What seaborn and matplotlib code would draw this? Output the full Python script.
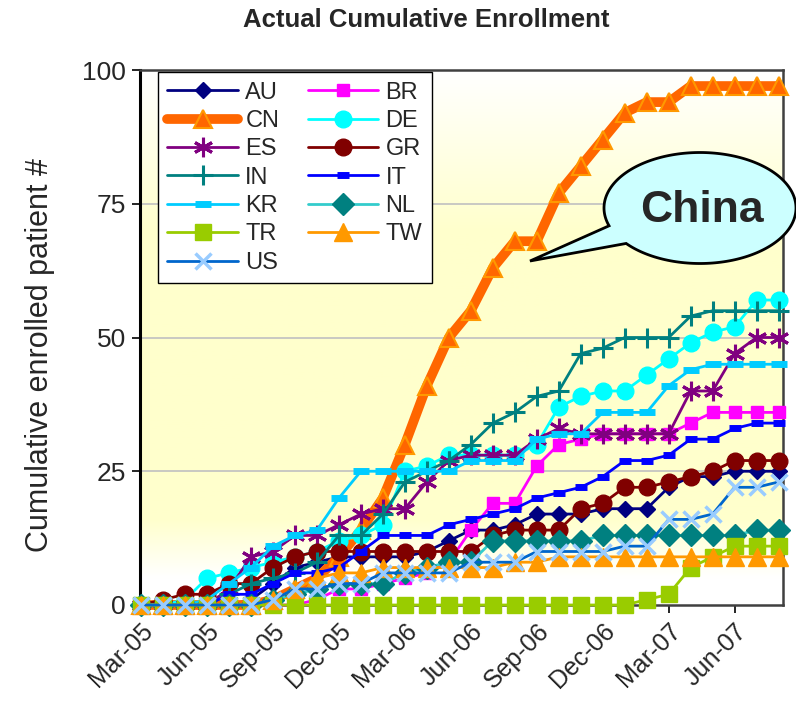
import numpy as np
import pandas as pd
import matplotlib
matplotlib.use("Agg")
import matplotlib.pyplot as plt
import matplotlib.transforms as mtransforms
import seaborn as sns
from matplotlib.patches import Polygon
from matplotlib.colors import LinearSegmentedColormap

sns.set_theme(style="white")
plt.rcParams["font.family"] = ["Liberation Sans", "DejaVu Sans"]

# monthly points, Mar-05 .. Aug-07
months = np.arange(30)
tick_labels = ["Mar-05", "Jun-05", "Sep-05", "Dec-05", "Mar-06",
               "Jun-06", "Sep-06", "Dec-06", "Mar-07", "Jun-07"]

AU = [0, 0, 0, 0, 0, 1, 4, 7, 8, 9, 9, 9, 9, 10, 12, 14, 14, 15, 17, 17,
      17, 18, 18, 18, 22, 24, 24, 25, 25, 25]
BR = [0, 0, 0, 0, 0, 0, 0, 0, 1, 3, 3, 4, 5, 6, 8, 14, 19, 19, 26, 30,
      31, 32, 32, 32, 32, 34, 36, 36, 36, 36]
CN = [0, 0, 0, 0, 0, 0, 1, 3, 5, 9, 14, 20, 30, 41, 50, 55, 63, 68, 68, 77,
      82, 87, 92, 94, 94, 97, 97, 97, 97, 97]
DE = [0, 0, 1, 5, 6, 7, 8, 9, 10, 12, 13, 15, 25, 26, 28, 28, 28, 28, 30, 37,
      39, 40, 40, 43, 46, 49, 51, 52, 57, 57]
ES = [0, 0, 0, 0, 3, 9, 10, 13, 13, 15, 17, 18, 18, 23, 27, 28, 28, 28, 31, 33,
      32, 32, 32, 32, 32, 40, 40, 47, 50, 50]
GR = [0, 1, 2, 2, 4, 4, 7, 9, 10, 10, 10, 10, 10, 10, 10, 10, 13, 14, 14, 14,
      18, 19, 22, 22, 23, 24, 25, 27, 27, 27]
IN = [0, 0, 0, 0, 2, 4, 5, 6, 8, 13, 13, 17, 23, 25, 27, 30, 34, 36, 39, 40,
      47, 48, 50, 50, 50, 54, 55, 55, 55, 55]
IT = [0, 0, 0, 0, 2, 2, 4, 6, 6, 7, 10, 13, 13, 13, 15, 16, 17, 18, 20, 21,
      22, 24, 27, 27, 28, 31, 31, 33, 34, 34]
KR = [0, 0, 0, 1, 4, 7, 11, 13, 14, 20, 25, 25, 25, 25, 25, 27, 27, 27, 31, 32,
      32, 36, 36, 36, 41, 44, 45, 45, 45, 45]
NL = [0, 0, 0, 0, 0, 0, 1, 2, 3, 4, 4, 4, 6, 7, 8, 8, 12, 12, 12, 12,
      12, 13, 13, 13, 13, 13, 13, 13, 14, 14]
TR = [0, 0, 0, 0, 0, 0, 0, 0, 0, 0, 0, 0, 0, 0, 0, 0, 0, 0, 0, 0,
      0, 0, 0, 1, 2, 7, 9, 11, 11, 11]
TW = [0, 0, 0, 0, 0, 0, 1, 3, 5, 6, 6, 7, 7, 7, 7, 7, 7, 8, 8, 9,
      9, 9, 9, 9, 9, 9, 9, 9, 9, 9]
US = [0, 0, 0, 0, 0, 0, 1, 3, 3, 4, 4, 6, 6, 6, 6, 8, 8, 8, 10, 10,
      10, 10, 11, 11, 16, 16, 17, 22, 22, 23]

series = {"AU": AU, "BR": BR, "CN": CN, "DE": DE, "ES": ES, "GR": GR,
          "IN": IN, "IT": IT, "KR": KR, "NL": NL, "TR": TR, "TW": TW, "US": US}

df = pd.concat(
    [pd.DataFrame({"month": months, "patients": v, "country": k})
     for k, v in series.items()],
    ignore_index=True,
)

# line colour, width, marker, marker size, face, edge, edge width
styles = {
    "AU": ("#000080", 2, "D", 8, "#000080", "#000080", 1),
    "BR": ("#FF00FF", 2, "s", 9, "#FF00FF", "#FF00FF", 1),
    "CN": ("#FF6600", 7, "^", 13, "#FF6600", "#FF9900", 1.5),
    "DE": ("#00FFFF", 2, "o", 12, "#00FFFF", "#00FFFF", 1),
    "ES": ("#800080", 2, (6, 2, 0), 14, "#800080", "#800080", 2.2),
    "GR": ("#800000", 2, "o", 12, "#800000", "#800000", 1),
    "IN": ("#008080", 2, "+", 14, "#008080", "#008080", 2.2),
    "IT": ("#0000FF", 2, "_", 8, "#0000FF", "#0000FF", 5),
    "KR": ("#00CCFF", 2, "_", 12, "#00CCFF", "#00CCFF", 5),
    "NL": ("#33CCCC", 2, "D", 11, "#008080", "#008080", 1),
    "TR": ("#99CC00", 2, "s", 12, "#99CC00", "#99CC00", 1),
    "TW": ("#FF9900", 2, "^", 13, "#FF9900", "#FF9900", 1),
    "US": ("#0066CC", 2, "x", 12, "#99CCFF", "#99CCFF", 2.5),
}

fig = plt.figure(figsize=(7.96, 7.10), dpi=100)
ax = fig.add_axes([140 / 796, 105 / 710, 643 / 796, 535 / 710])

xmin, xmax = -0.05, 29.2
# white -> light yellow -> white background
bg = LinearSegmentedColormap.from_list(
    "bg", [(0, "#FFFFFF"), (0.3, "#FFFFCC"), (0.84, "#FFFFCC"),
           (0.95, "#FFFFFF"), (1, "#FFFFFF")])
ax.imshow(np.linspace(0, 1, 256).reshape(-1, 1), extent=[xmin, xmax, 0, 100],
          aspect="auto", cmap=bg, origin="upper", zorder=0)

for gy in [25, 50, 75]:
    ax.axhline(gy, color="#C0C0C0", lw=1.2, zorder=1)

for i, (name, st) in enumerate(styles.items()):
    color, lw, marker, ms, mfc, mec, mew = st
    sns.lineplot(
        data=df[df.country == name], x="month", y="patients", ax=ax,
        color=color, lw=lw, marker=marker, markersize=ms,
        markerfacecolor=mfc, markeredgecolor=mec, markeredgewidth=mew,
        clip_on=False, zorder=3 + i, label=name, legend=False,
    )

ax.set_xlim(xmin, xmax)
ax.set_ylim(0, 100)
ax.set_yticks([0, 25, 50, 75, 100])
ax.set_yticklabels(["0", "25", "50", "75", "100"], fontsize=19)
ax.set_xticks(range(0, 30, 3))
ax.set_xticklabels(tick_labels, rotation=45, ha="right",
                   rotation_mode="anchor", fontsize=18)
shift = mtransforms.ScaledTranslation(-0.2, -0.18, fig.dpi_scale_trans)
for lab in ax.get_xticklabels():
    lab.set_transform(lab.get_transform() + shift)
ax.tick_params(axis="both", direction="out", length=6, width=1.2,
               color="black", bottom=True, left=True, pad=4)
ax.set_xlabel("")
ax.set_ylabel("")
for side in ["top", "right", "bottom"]:
    ax.spines[side].set_color("#404040")
    ax.spines[side].set_linewidth(1.8)
ax.spines["left"].set_color("black")
ax.spines["left"].set_linewidth(2.2)

# Legend, column-major like the original
order = ["AU", "CN", "ES", "IN", "KR", "TR", "US",
         "BR", "DE", "GR", "IT", "NL", "TW"]
handles, labels = ax.get_legend_handles_labels()
hmap = dict(zip(labels, handles))
leg = ax.legend(
    [hmap[k] for k in order], order, ncol=2, loc="upper left",
    bbox_to_anchor=(0.028, 0.996), borderaxespad=0, fontsize=17,
    frameon=True, fancybox=False, framealpha=1, edgecolor="black",
    handlelength=3.0, labelspacing=0.27, columnspacing=1.2,
    handletextpad=0.3, borderpad=0.4,
)
leg.get_frame().set_linewidth(1.0)
leg.set_zorder(30)

fig.text(426 / 796, 1 - 20 / 710, "Actual Cumulative Enrollment",
         ha="center", va="center", fontsize=18.5, fontweight="bold")
fig.text(40 / 796, 1 - 355 / 710, "Cumulative enrolled patient #",
         ha="center", va="center", rotation=90, fontsize=22)

# "China" speech bubble
cx, cy, a, b = 700, 208, 96, 55.5
theta = np.radians(np.linspace(161.3, 500.3, 200))
px = list(cx + a * np.cos(theta)) + [530]
py = list(cy + b * np.sin(theta)) + [261]
pts = np.column_stack([np.array(px) / 796, 1 - np.array(py) / 710])
fig.add_artist(Polygon(pts, closed=True, transform=fig.transFigure,
                       facecolor="#CCFFFF", edgecolor="black", lw=2,
                       zorder=40))
fig.text(702 / 796, 1 - 210 / 710, "China", ha="center", va="center",
         fontsize=32, fontweight="bold", zorder=41)

plt.savefig("out.png", dpi=100)
